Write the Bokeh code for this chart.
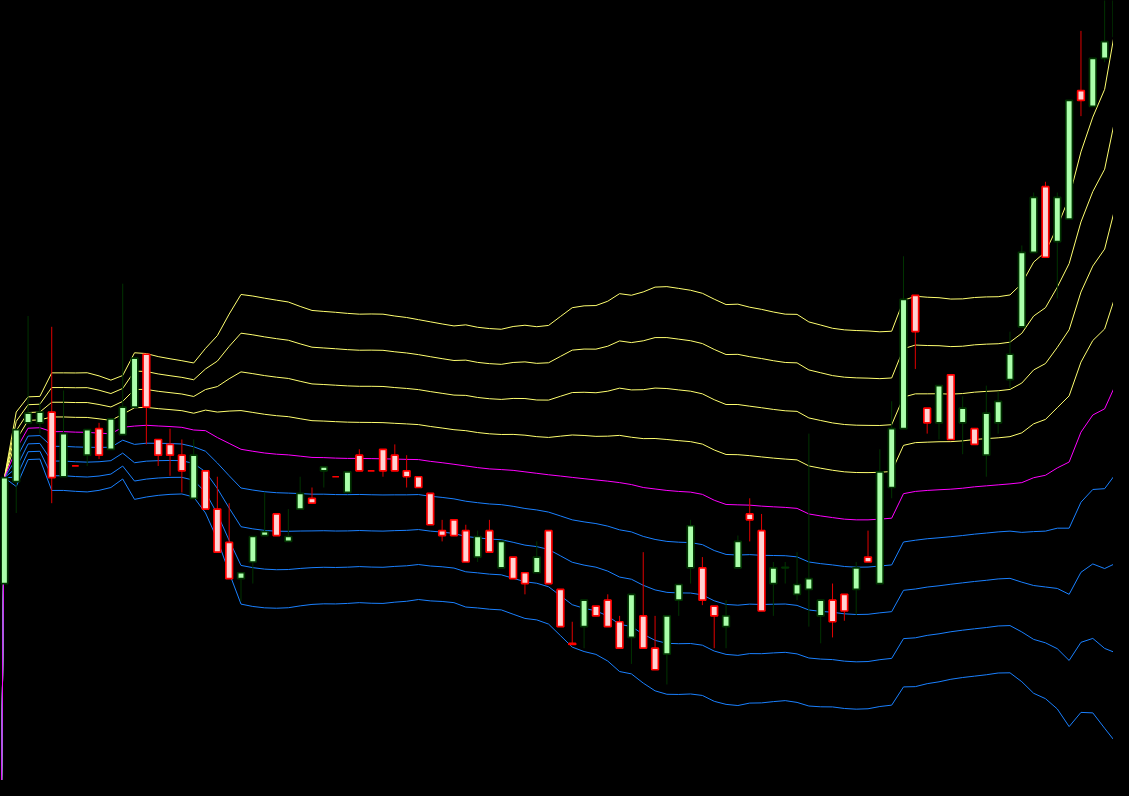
from bokeh.plotting import figure
from bokeh.models import ColumnDataSource, Range1d, GlobalInlineStyleSheet
from bokeh.embed import file_html
from bokeh.resources import INLINE

# daily candles, oldest first (price units)
open_ = [120.5, 130.9, 136.9, 136.9, 138.0, 131.4, 132.5, 133.6, 136.3, 134.2,
         135.7, 138.5, 143.9, 135.2, 134.7, 133.6, 129.2, 132.0, 128.1, 124.7,
         121.0, 122.7, 125.4, 127.6, 124.8, 128.1, 129.2, 132.0, 131.4, 129.8,
         133.6, 132.0, 134.2, 133.6, 132.0, 131.4, 129.7, 125.9, 127.0, 125.9,
         123.2, 125.9, 122.1, 123.2, 121.6, 121.6, 125.9, 119.9, 114.4, 116.1,
         118.2, 118.8, 116.6, 115.0, 117.2, 113.9, 113.3, 118.8, 122.1, 122.1,
         118.2, 116.1, 122.1, 127.6, 125.9, 120.5, 122.1, 119.4, 119.9, 117.2,
         118.8, 119.4, 119.9, 123.2, 120.5, 130.3, 136.3, 149.9, 138.4, 136.9,
         141.8, 136.9, 136.3, 133.6, 136.9, 141.3, 146.7, 154.3, 161.0, 155.4,
         157.7, 170.8, 169.2, 174.1, 176.3]
high = [131.3, 136.2, 147.8, 139.0, 146.7, 140.2, 132.5, 136.2, 136.9, 137.3,
        151.1, 143.5, 143.9, 135.2, 136.3, 135.2, 135.2, 132.0, 131.4, 128.7,
        121.6, 125.3, 129.8, 127.6, 128.1, 131.4, 130.3, 132.4, 131.4, 131.9,
        134.2, 132.0, 134.2, 134.7, 133.6, 131.4, 129.7, 127.0, 127.0, 126.5,
        125.9, 127.0, 124.8, 123.2, 121.6, 124.8, 125.9, 119.9, 116.6, 118.8,
        118.2, 119.4, 117.2, 119.4, 123.7, 117.2, 117.2, 120.4, 127.0, 123.2,
        118.2, 118.8, 125.4, 129.2, 127.6, 122.7, 122.7, 123.7, 135.8, 118.8,
        120.5, 119.4, 122.7, 125.9, 134.2, 139.1, 153.9, 149.9, 138.4, 140.7,
        141.8, 139.6, 136.3, 140.7, 140.1, 146.2, 155.0, 160.4, 161.5, 160.4,
        169.8, 176.9, 174.1, 180.8, 182.0]
low = [120.5, 127.7, 136.9, 135.8, 128.7, 131.4, 132.5, 132.5, 133.2, 134.2,
       135.7, 138.5, 134.7, 132.5, 131.5, 129.8, 129.2, 128.1, 123.7, 121.0,
       118.7, 120.5, 125.4, 125.4, 124.8, 128.1, 128.7, 130.3, 131.4, 129.8,
       132.0, 132.0, 131.4, 132.0, 130.3, 130.3, 126.5, 124.8, 125.4, 122.7,
       122.7, 123.7, 122.1, 121.0, 119.4, 121.6, 120.5, 116.1, 114.3, 113.9,
       117.2, 116.1, 113.9, 112.3, 113.9, 111.7, 110.2, 117.2, 120.5, 118.3,
       113.9, 113.9, 122.1, 124.8, 117.7, 117.2, 120.5, 118.8, 116.1, 114.4,
       115.0, 116.7, 117.3, 122.7, 120.5, 129.2, 136.3, 142.4, 135.8, 135.2,
       135.2, 133.7, 134.7, 131.4, 135.8, 140.4, 146.7, 154.3, 153.8, 149.6,
       157.7, 168.2, 169.2, 173.7, 176.3]
close = [131.3, 136.2, 137.9, 138.0, 131.3, 135.8, 132.5, 136.2, 133.6, 137.3,
         138.5, 143.5, 138.5, 133.6, 133.6, 132.0, 133.6, 128.1, 123.7, 121.0,
         121.6, 125.3, 125.8, 125.4, 125.3, 129.7, 128.7, 132.4, 131.4, 131.9,
         132.0, 132.0, 132.0, 132.0, 131.4, 130.3, 126.5, 125.4, 125.4, 122.7,
         125.3, 123.7, 124.8, 121.0, 120.5, 123.2, 120.5, 116.1, 114.3, 118.8,
         117.2, 116.1, 113.9, 119.4, 113.9, 111.7, 117.2, 120.4, 126.4, 118.8,
         117.2, 117.2, 124.8, 127.0, 117.7, 122.1, 122.15, 120.4, 121.0, 118.8,
         116.6, 117.7, 122.1, 122.7, 131.9, 136.3, 149.5, 146.2, 136.9, 140.7,
         135.2, 138.4, 134.7, 137.9, 139.1, 143.9, 154.3, 159.9, 153.8, 159.9,
         169.8, 169.8, 174.1, 175.8, 181.0]

# moving average (magenta) and envelope step; first entry is the empty start point
ma = [0.0,
      131.3, 134.2, 136.35, 136.4, 136.0, 136.0, 135.95, 135.93, 135.85, 135.78,
      136.45, 136.57, 136.65, 136.58, 136.52, 136.44, 136.17, 136.1, 135.4, 134.8,
      134.2, 134.0, 133.82, 133.7, 133.63, 133.5, 133.37, 133.35, 133.3, 133.27,
      133.27, 133.25, 133.23, 133.2, 133.17, 133.15, 132.97, 132.83, 132.67, 132.5,
      132.33, 132.2, 132.13, 132.05, 131.9, 131.75, 131.6, 131.47, 131.33, 131.2,
      131.07, 130.95, 130.8, 130.6, 130.3, 130.15, 130.0, 129.9, 129.83, 129.6,
      129.0, 128.57, 128.53, 128.5, 128.4, 128.33, 128.27, 128.17, 127.6, 127.4,
      127.23, 127.07, 127.0, 127.0, 127.07, 127.17, 129.67, 129.9, 130.0, 130.07,
      130.13, 130.23, 130.37, 130.47, 130.57, 130.67, 130.8, 131.3, 131.55, 132.3,
      132.9, 135.95, 137.7, 138.33, 141.0]
band_step = [0.0,
             0.0, 0.95, 0.8, 0.8, 1.5, 1.5, 1.51, 1.52, 1.46, 1.37,
             1.32, 1.87, 1.83, 1.77, 1.73, 1.7, 1.71, 2.1, 2.6, 3.3,
             3.95, 3.96, 3.95, 3.93, 3.9, 3.82, 3.75, 3.73, 3.72, 3.7,
             3.68, 3.69, 3.69, 3.65, 3.62, 3.57, 3.56, 3.54, 3.53, 3.6,
             3.58, 3.58, 3.58, 3.67, 3.74, 3.74, 3.81, 4.07, 4.33, 4.41,
             4.45, 4.59, 4.82, 4.83, 4.99, 5.15, 5.2, 5.18, 5.15, 5.13,
             5.13, 5.1, 5.12, 5.05, 5.02, 4.97, 4.93, 4.95, 4.9, 4.87,
             4.83, 4.83, 4.83, 4.82, 4.78, 4.77, 4.93, 4.98, 4.93, 4.9,
             4.85, 4.83, 4.83, 4.82, 4.8, 4.82, 5.08, 5.5, 5.7, 6.15,
             6.75, 7.15, 7.6, 8.15, 9.2]

idx = list(range(len(close)))
band_x = list(range(-1, len(ma) - 1))

up = [c > o for o, c in zip(open_, close)]
src = ColumnDataSource(dict(
    x=idx, high=high, low=low,
    top=[max(o, c) for o, c in zip(open_, close)],
    bottom=[min(o, c) for o, c in zip(open_, close)],
    fill=["#aaffaa" if u else "#ffd2d2" for u in up],
    edge=["#003300" if u else "#ff0000" for u in up],
    wick=["#003300" if u else "#e00000" for u in up],
))

p = figure(width=1113, height=780, output_backend="svg", toolbar_location=None,
           x_range=Range1d(-0.33, 93.75), y_range=Range1d(100.4, 180.0),
           background_fill_color="black", border_fill_color="black",
           min_border=0, outline_line_color=None)
p.axis.visible = False
p.grid.visible = False
p.stylesheets = [GlobalInlineStyleSheet(css="body { background: #000; }")]

# envelope: 4 bands above (yellow), average (magenta), 4 below (blue)
for k in range(1, 5):
    p.line(band_x, [m + k * s for m, s in zip(ma, band_step)], color="#ffff70", line_width=1)
    p.line(band_x, [m - k * s for m, s in zip(ma, band_step)], color="#1a80ff", line_width=1)
p.line(band_x, ma, color="#ff00ff", line_width=1)

p.segment(x0="x", y0="low", x1="x", y1="high", color="wick", line_width=1, source=src)
p.vbar(x="x", width=0.56, top="top", bottom="bottom", fill_color="fill",
       line_color="edge", line_width=1.7, source=src)

open("out.html", "w").write(file_html(p, INLINE))
